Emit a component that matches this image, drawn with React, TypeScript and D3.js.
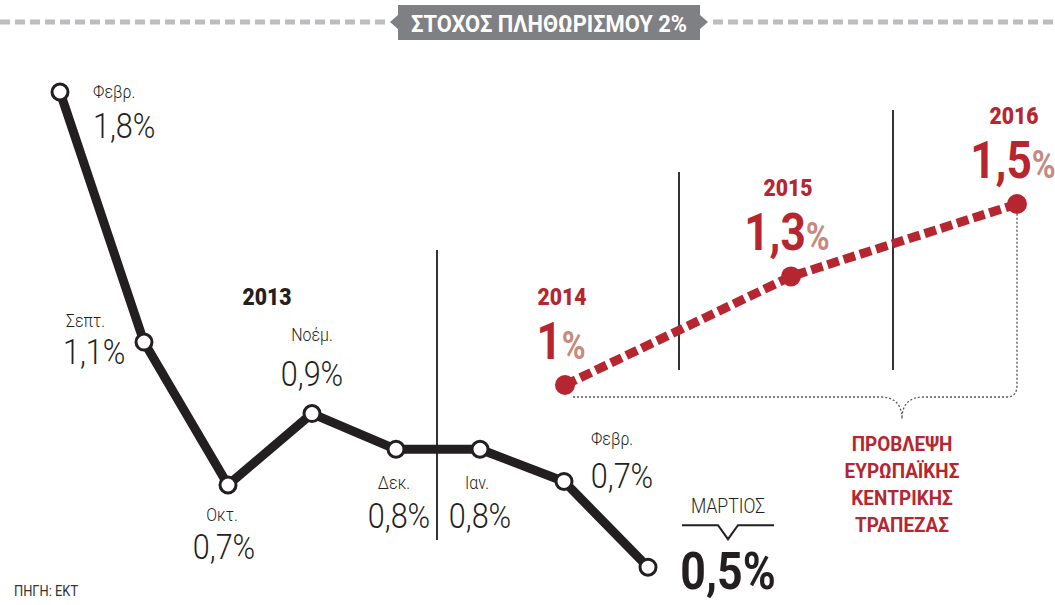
import React from "react";
import * as d3 from "d3";

// ---------- data ----------
const months = ["Φεβρ.", "Σεπτ.", "Οκτ.", "Νοέμ.", "Δεκ.", "Ιαν.", "Φεβρ.", "ΜΑΡΤΙΟΣ"];
const inflation = [1.8, 1.1, 0.7, 0.9, 0.8, 0.8, 0.71, 0.47];
const inflationLabels = ["1,8%", "1,1%", "0,7%", "0,9%", "0,8%", "0,8%", "0,7%", "0,5%"];
const forecastYears = ["2014", "2015", "2016"];
const forecast = [1.0, 1.3, 1.5];
const forecastLabels = ["1", "1,3", "1,5"];
const title = "ΣΤΟΧΟΣ ΠΛΗΘΩΡΙΣΜΟΥ 2%";
const yearLabel = "2013";
const forecastNote = ["ΠΡΟΒΛΕΨΗ", "ΕΥΡΩΠΑΪΚΗΣ", "ΚΕΝΤΡΙΚΗΣ", "ΤΡΑΠΕΖΑΣ"];
const source = "ΠΗΓΗ: ΕΚΤ";

// ---------- layout ----------
const W = 1055, H = 605;
const FONT = "Roboto,'Liberation Sans',sans-serif";
const BLACK = "#231f20";
const RED = "#b62630";
const PINK = "#c68a7e";

// label offsets relative to each point: [monthDx, monthDy, valueDx, valueDy, anchor]
const labelLayout: [number, number, number, number, string][] = [
  [33, 6, 33, 46, "start"],
  [-78, -15, -81, 22, "start"],
  [-6, 36, -4, 74, "middle"],
  [0, -73, 0, -28, "middle"],
  [-2, 40, 3, 79, "middle"],
  [-3, 40, 0, 79, "middle"],
  [48, -36, 58, 7, "middle"],
  [80, -54, 80, 22, "middle"],
];

function T(props: any) {
  const { x, y, sx = 0.84, anchor = "start", children, ...rest } = props;
  return (
    <text transform={`translate(${x},${y}) scale(${sx},1)`} textAnchor={anchor} fontFamily={FONT} {...rest}>
      {children}
    </text>
  );
}

export default function App() {
  const x = d3.scalePoint<number>().domain(d3.range(months.length)).range([60, 648]);
  const y = d3.scaleLinear().domain([0.7, 1.8]).range([485, 92]);
  const xf = d3.scalePoint<string>().domain(forecastYears).range([565, 1017]);
  const yf = d3.scaleLinear().domain([1.0, 1.5]).range([385, 204]);

  const line = d3.line<number>().x((_, i) => x(i)!).y((d) => y(d));
  const fline = d3.line<number>().x((_, i) => xf(forecastYears[i])!).y((d) => yf(d));

  const bracketY = 397;
  const bx = 902;
  const bracket = d3.path();
  bracket.moveTo(xf("2014")! + 8, bracketY);
  bracket.lineTo(bx - 22, bracketY);
  bracket.quadraticCurveTo(bx, bracketY, bx, bracketY + 22);
  bracket.quadraticCurveTo(bx, bracketY, bx + 22, bracketY);
  bracket.lineTo(xf("2016")! - 10, bracketY);
  bracket.quadraticCurveTo(xf("2016")!, bracketY, xf("2016")!, bracketY - 12);
  bracket.lineTo(xf("2016")!, yf(1.5) + 10);

  const mx = x(7)! + 80;
  const my = y(0.47);

  return (
    <svg width={W} height={H} style={{ position: "absolute", left: 0, top: 0, background: "#fff" }}>
      {/* target banner */}
      <line x1={0} x2={388} y1={22} y2={22} stroke="#bcbdc0" strokeWidth={5} strokeDasharray="10,5" />
      <line x1={713} x2={W} y1={22} y2={22} stroke="#bcbdc0" strokeWidth={5} strokeDasharray="10,5" />
      <path d="M398,5 H700 V15 L708,22 L700,29 V40 H398 V29 L390,22 L398,15 Z" fill="#7f8083" />
      <text x={549} y={32} textAnchor="middle" fill="#fff" fontFamily={FONT} fontWeight={700} fontSize={23}
        textLength={276} lengthAdjust="spacingAndGlyphs">{title}</text>

      {/* separators */}
      <line x1={437} x2={437} y1={250} y2={540} stroke="#333" strokeWidth={2} />
      <line x1={679} x2={679} y1={172} y2={370} stroke="#333" strokeWidth={2} />
      <line x1={893} x2={893} y1={110} y2={370} stroke="#333" strokeWidth={2} />

      {/* 2013 */}
      <T x={267} y={305} anchor="middle" sx={0.92} fontWeight={900} fontSize={23} fill={BLACK}>{yearLabel}</T>

      {/* inflation line */}
      <path d={line(inflation)!} fill="none" stroke={BLACK} strokeWidth={9} strokeLinejoin="round" />
      {inflation.map((v, i) => (
        <circle key={i} cx={x(i)} cy={y(v)} r={8} fill="#fff" stroke={BLACK} strokeWidth={3} />
      ))}
      {inflation.map((v, i) => {
        const [mdx, mdy, vdx, vdy, anchor] = labelLayout[i];
        const px = x(i)!, py = y(v);
        const last = i === inflation.length - 1;
        return (
          <g key={"l" + i}>
            <T x={px + mdx} y={py + mdy} anchor={anchor} fontSize={last ? 21 : 19} fill={BLACK}
              fontWeight={300}>{months[i]}</T>
            <T x={px + vdx} y={py + vdy} anchor={anchor} sx={last ? 0.86 : 0.85}
              fontSize={last ? 52 : 36} fontWeight={last ? 700 : 300} fill={BLACK}>{inflationLabels[i]}</T>
          </g>
        );
      })}
      {/* March marker */}
      <path d={`M${mx - 46},${my - 42} H${mx - 10} L${mx},${my - 28} L${mx + 10},${my - 42} H${mx + 46}`}
        fill="none" stroke={BLACK} strokeWidth={2} />

      {/* forecast bracket */}
      <path d={bracket.toString()} fill="none" stroke="#555" strokeWidth={1.3} strokeDasharray="2,2" />

      {/* forecast line */}
      <path d={fline(forecast)!} fill="none" stroke={RED} strokeWidth={9} strokeDasharray="12,5" />
      {forecast.map((v, i) => (
        <circle key={"f" + i} cx={xf(forecastYears[i])} cy={yf(v)} r={10} fill={RED} />
      ))}
      {forecast.map((v, i) => {
        const px = xf(forecastYears[i])!, py = yf(v);
        return (
          <g key={"fl" + i}>
            <T x={px - 3} y={py - 80} anchor="middle" sx={0.92} fontWeight={900} fontSize={23}
              fill={RED}>{forecastYears[i]}</T>
            <T x={px - 4} y={py - 26} anchor="middle" sx={0.85} fontWeight={700} fill={RED}>
              <tspan fontSize={52}>{forecastLabels[i]}</tspan>
              <tspan fontSize={38} fill={PINK}>%</tspan>
            </T>
          </g>
        );
      })}

      {/* note */}
      {forecastNote.map((t, i) => (
        <T key={"n" + i} x={bx} y={451 + i * 27} anchor="middle" sx={0.9} fontWeight={700}
          fontSize={21} fill={RED}>{t}</T>
      ))}

      <T x={14} y={596} fontSize={14} sx={0.92} fill="#333">{source}</T>
    </svg>
  );
}
